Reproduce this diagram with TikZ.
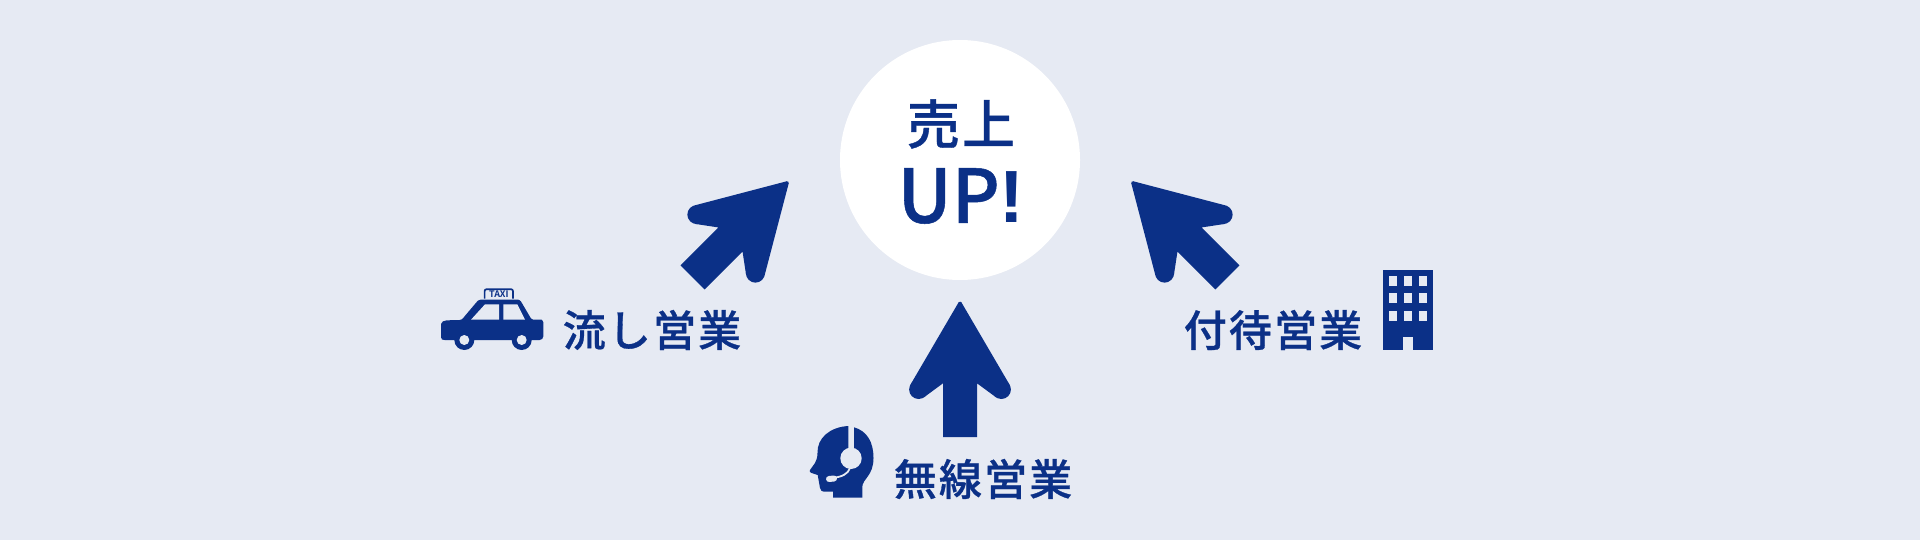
\documentclass[tikz,border=0pt]{standalone}
\usepackage{fontspec}
\newfontfamily\cjk[FakeBold=0.7]{Noto Sans CJK JP Medium}
\newfontfamily\cjklabel[LetterSpace=5,FakeBold=0.7]{Noto Sans CJK JP Medium}
\newfontfamily\cjktop[LetterSpace=4,FakeBold=0.7]{Noto Sans CJK JP Medium}
\newfontfamily\exclam{Liberation Sans Bold}
\definecolor{navy}{HTML}{0B3087}
\definecolor{paper}{HTML}{E6EAF3}
\tikzset{
  x=1pt,y=-1pt,
  label text/.style={text=navy,inner sep=0pt,font=\fontsize{43}{43}\cjklabel},
  bigarrow/.pic={
    \fill[navy] (-1.3,0.2) -- (-49.5,82.6) -- (-36.3,95.5) -- (-17,81.3) -- (-17,135) -- (17,135) -- (17,81.3) -- (36.3,95.5) -- (49.5,82.6) -- (1.3,0.2) -- cycle;
    \fill[navy] (0,1) circle[radius=1.5pt];
    \fill[navy] (-41.4,87.5) circle[radius=9.5pt];
    \fill[navy] (41.4,87.5) circle[radius=9.5pt];
  }
}
\begin{document}
\begin{tikzpicture}
\useasboundingbox (0,0) rectangle (1920,540);
\fill[paper] (0,0) rectangle (1920,540);
% central circle
\node[circle,fill=white,minimum size=240pt,inner sep=0pt] (goal) at (960,160) {};
\node[text=navy,inner sep=0pt,font=\fontsize{53}{53}\cjktop] (uri) at (961,124) {売上};
\node[text=navy,inner sep=0pt,font=\fontsize{74}{74}\cjk] (up) at (961,196) {UP{\exclam\fontsize{74}{74}\selectfont !}};
% arrows
\pic at (960,302) {bigarrow};
\pic[rotate=-45] at (788,182) {bigarrow};
\pic[rotate=45] at (1132,182) {bigarrow};
% labels
\node[label text] (nagashi) at (652,330) {流し営業};
\node[label text] (musen) at (983,479) {無線営業};
\node[label text] (tsuke) at (1273,330) {付待営業};
% taxi
\fill[navy,rounded corners=1.5pt] (441,339) -- (441,325.5) .. controls (441,322) and (444,320.3) .. (448.3,320.3) -- (458,320) .. controls (461,320) and (462.5,319) .. (464,317) -- (476.7,302) .. controls (478,300.5) and (480,299.7) .. (482,299.7) -- (516.7,299.7) .. controls (519,299.7) and (520.5,300.7) .. (521.7,302.7) -- (531.7,319.7) -- (540,319.7) .. controls (542,319.7) and (543.3,321.5) .. (543.3,323.7) -- (543.3,338) -- (541,340) -- (443,340) -- cycle;
\fill[navy] (464.3,340) circle[radius=10pt] (521.7,340) circle[radius=10pt];
\fill[paper] (464.3,340) circle[radius=5pt] (521.7,340) circle[radius=5pt];
\fill[paper] (471,319.7) -- (485,304.3) -- (499,304.3) -- (499,319.7) -- cycle;
\fill[paper] (503.3,304.3) -- (517.3,304.3) -- (525,319.7) -- (503.3,319.7) -- cycle;
\draw[navy,line width=1.7pt,rounded corners=2pt] (484.6,298.5) -- (484.6,289.2) -- (513,289.2) -- (513,298.5);
\node[text=navy,inner sep=0pt,font=\fontsize{9}{9}\fontspec{Noto Sans CJK JP Bold}] (taxi) at (498.8,294.2) {TAXI};
% headset
\fill[navy] (848.3,426) .. controls (830,427) and (817,438) .. (817.5,453) .. controls (817.5,458) and (816,461) .. (815,463) -- (810,470) .. controls (809,471.5) and (810,472.5) .. (811.5,473) -- (817.7,475) -- (820,488) .. controls (820.5,490.5) and (822,491.7) .. (824,491.7) -- (833,491.7) -- (833,497.7) -- (862.3,497.7) -- (862.3,487) .. controls (862.3,479) and (873.5,476) .. (873.5,458) .. controls (873.5,442) and (867,431) .. (854,427.3) -- (854,450) -- (848.3,450) -- cycle;
\fill[paper] (851,458.3) circle[radius=10.7pt];
\draw[paper,line width=1.8pt] (850,468) .. controls (848,474) and (842,477) .. (832,478);
\draw[paper,line width=6pt,line cap=round] (829,479) -- (834,478.5);
% building
\fill[navy] (1383,270) rectangle (1433,350);
\foreach \wx in {1389,1404,1419}
  \foreach \wy in {275.7,293.3,310.7}
    \fill[paper] (\wx,\wy) rectangle ++(8,10);
\fill[paper] (1403,336.7) rectangle (1413,350);
\end{tikzpicture}
\end{document}
